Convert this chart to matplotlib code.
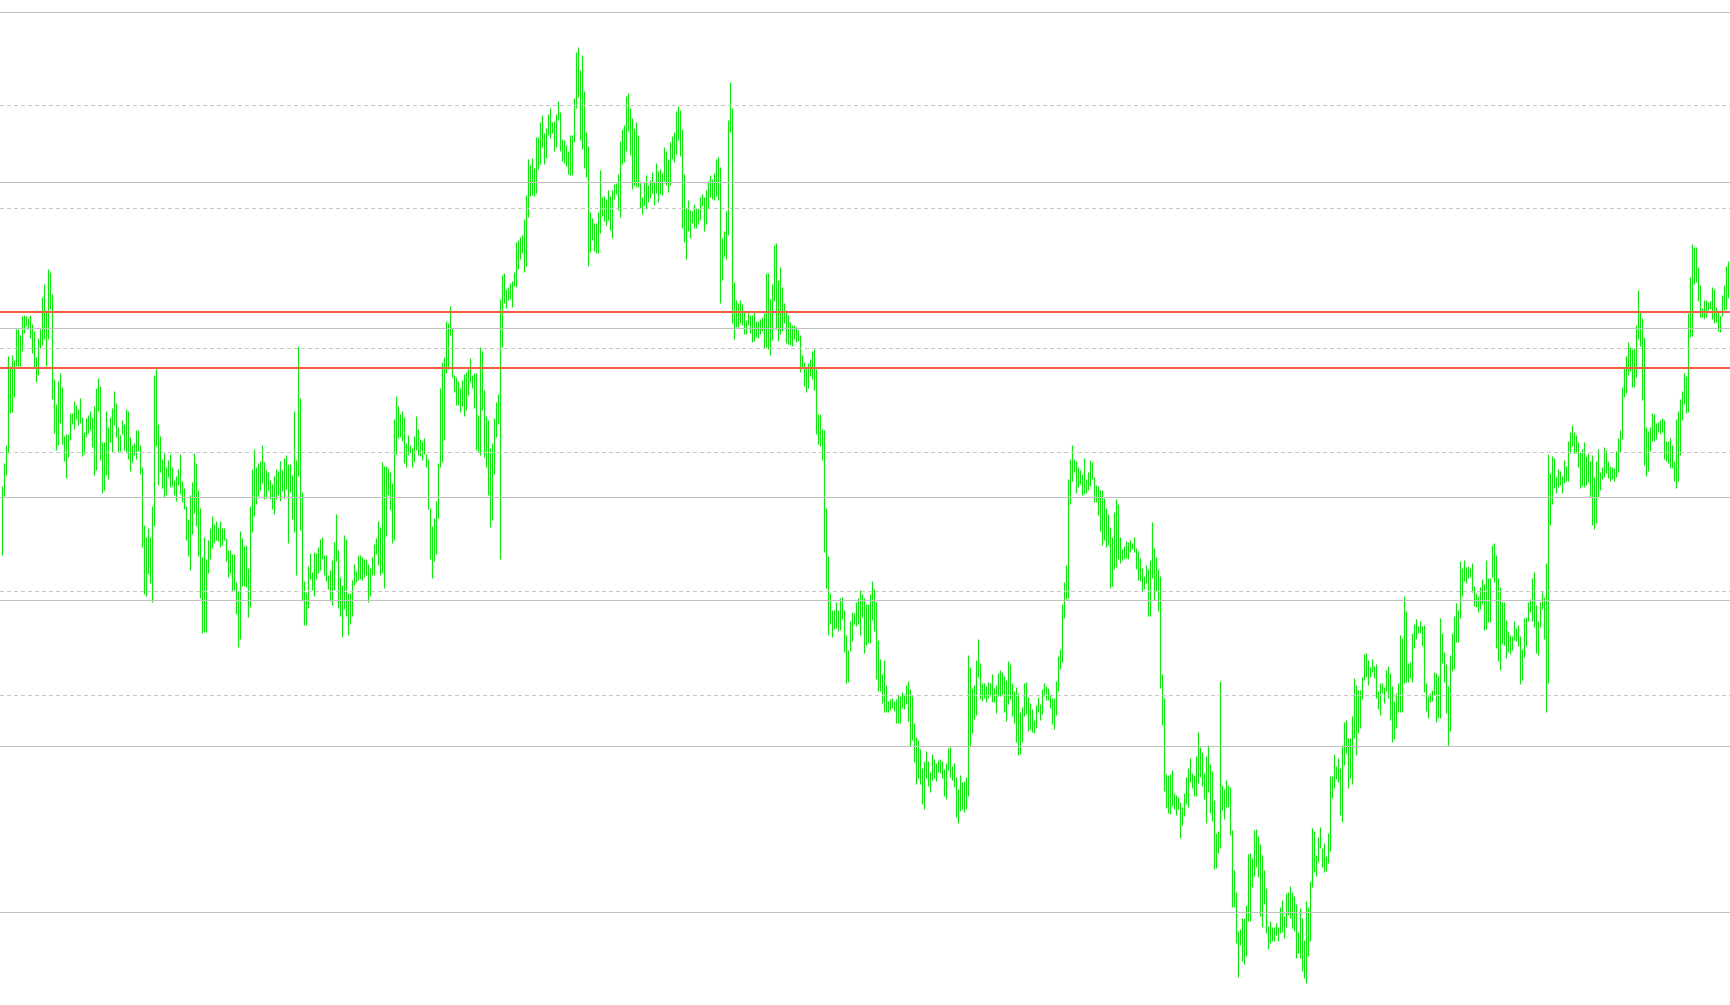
import numpy as np
import matplotlib
matplotlib.use("Agg")
import matplotlib.pyplot as plt

# ---- data (price units) ----
highs = [
514,537,555,644,634,645,640,671,671,665,
684,685,684,682,685,676,669,643,662,671,
703,716,690,731,728,706,621,596,619,627,
613,564,566,566,587,587,599,595,591,602,
583,568,582,585,589,583,594,612,622,614,
558,558,589,573,583,592,609,597,573,565,
580,576,591,589,563,555,557,570,570,555,
533,475,463,472,463,494,625,631,576,564,
541,547,533,540,546,533,520,524,531,546,
519,512,494,481,505,518,547,537,510,492,
443,463,441,460,472,484,476,479,473,479,
472,472,462,450,450,446,446,418,409,469,
462,454,455,432,494,531,551,533,537,539,
555,538,530,528,520,516,524,531,529,539,
530,542,545,536,536,
525,589,540,654,602,508,419,408,434,447,
428,448,447,453,461,463,445,445,425,430,
440,458,486,450,423,415,465,461,407,407,
420,436,429,445,445,443,441,441,436,432,
443,456,462,479,473,538,534,534,532,528,
517,581,604,594,586,589,583,557,565,555,
552,564,584,571,561,559,562,546,541,492,
474,482,499,537,612,638,643,679,677,694,
672,625,623,619,612,620,626,628,631,642,
625,627,627,585,653,649,610,584,580,552,
557,582,598,606,701,725,727,711,713,717,
719,728,758,760,763,765,781,805,841,835,
842,832,863,863,878,885,867,872,886,892,
878,879,886,899,888,861,860,855,849,865,
865,902,948,953,930,
945,909,868,854,788,782,777,777,788,830,
803,804,801,810,804,810,816,817,826,859,
871,875,904,907,892,882,872,878,865,817,
803,818,825,815,820,828,818,837,829,831,
827,853,849,841,858,864,868,889,894,890,
871,826,792,800,790,789,796,792,792,803,
806,803,810,819,825,821,827,841,843,833,
762,769,789,880,918,892,718,700,697,700,
696,688,680,688,685,685,688,679,679,681,
683,687,727,727,701,716,755,757,720,733,
713,697,690,685,678,675,675,673,670,665,
645,638,632,637,641,649,651,631,586,586,
571,570,492,444,407,390,390,398,390,402,
403,390,365,350,379,388,387,398,402,410,
406,402,396,396,406,
419,411,398,360,341,326,340,315,299,301,
302,299,301,306,304,308,306,315,319,311,
304,277,263,260,251,232,239,249,239,228,
246,241,237,240,241,239,231,237,252,253,
234,237,223,211,225,218,219,223,345,333,
312,315,340,361,337,317,317,314,318,317,
326,312,315,327,330,328,324,320,339,336,
317,309,313,307,288,293,317,318,303,297,
291,280,295,303,296,311,317,314,312,306,
302,302,319,344,351,396,418,435,521,541,
555,541,539,533,530,526,542,521,528,540,
538,523,515,514,510,510,502,492,486,473,
463,488,501,496,463,451,454,459,458,460,
457,463,452,449,442,432,424,435,431,440,
478,452,443,431,424,
326,302,226,225,226,230,207,205,203,198,
193,207,223,232,242,227,225,244,268,253,
248,227,244,255,236,229,200,167,169,319,
215,211,220,215,213,170,130,108,69,71,
82,82,95,146,147,142,170,171,164,156,
145,130,112,74,79,73,73,77,73,93,
100,84,107,108,114,108,104,96,68,92,
82,60,99,93,119,172,169,145,163,173,
152,157,144,167,224,224,246,234,242,232,
255,278,280,262,262,284,322,315,310,310,
323,346,347,340,333,341,334,336,309,317,
317,313,330,334,327,314,299,307,317,365,
362,404,389,337,338,367,376,381,374,379,
374,375,317,304,307,310,328,327,324,382,
367,348,336,314,345,
367,384,397,390,439,432,440,433,434,432,
437,414,407,404,413,421,416,440,422,422,
455,457,445,422,413,398,398,380,369,365,
364,379,372,375,364,351,382,383,398,401,
422,428,395,379,398,408,403,437,546,527,
544,542,523,531,529,524,540,534,559,568,
575,568,565,558,548,551,558,544,547,539,
545,523,539,551,528,533,553,550,539,534,
533,532,549,562,570,613,632,644,658,653,
651,652,675,710,688,682,663,573,569,573,
587,586,577,578,580,582,580,559,559,562,
555,539,581,589,601,609,627,624,687,723,
756,753,753,733,715,692,700,700,698,699,
713,711,693,688,684,705,715,734,739,740,
]

lows = [
445,504,525,547,587,588,603,634,634,634,
649,667,674,671,662,647,633,618,625,652,
655,661,634,661,691,601,567,550,555,577,
556,539,522,543,560,576,571,581,575,577,
544,546,563,567,570,553,525,530,589,540,
507,510,525,521,558,548,575,563,548,549,
566,550,547,541,529,538,545,541,549,526,
453,406,404,426,417,398,474,554,515,528,
512,503,505,523,513,514,505,499,515,506,
498,491,460,444,430,466,487,474,444,402,
367,368,368,427,441,452,457,460,459,453,
455,460,439,423,427,409,410,386,353,361,
414,414,413,383,393,468,484,496,504,510,
517,501,502,510,501,491,486,501,505,499,
509,502,511,457,508,
481,468,425,524,470,399,375,375,392,421,
410,404,421,427,430,441,425,419,411,399,
395,410,439,392,384,363,391,384,365,376,
384,415,418,420,421,420,423,425,398,404,
425,425,446,435,425,427,412,464,505,490,
457,460,546,562,563,559,537,533,545,547,
533,538,550,545,544,540,546,533,491,441,
422,439,446,482,533,538,560,627,631,665,
623,608,595,595,588,594,584,590,605,618,
612,592,550,548,545,590,543,533,505,473,
480,526,563,576,441,653,697,692,700,701,
693,714,713,731,741,747,728,734,783,804,
805,804,807,831,836,853,836,842,865,862,
867,849,853,880,849,839,837,834,826,825,
825,858,892,903,860,
851,832,823,734,748,760,749,747,747,767,
784,779,775,780,770,762,801,806,790,783,
836,838,849,869,845,811,815,813,813,792,
786,794,791,798,802,807,795,807,798,806,
805,819,815,808,815,841,838,846,860,844,
772,758,741,769,762,777,772,772,776,780,
794,769,776,791,803,801,800,804,800,697,
720,744,741,765,868,677,661,673,673,677,
675,666,666,675,667,658,659,663,662,666,
669,652,653,651,645,660,699,671,659,666,
669,677,657,656,655,654,661,658,659,628,
633,614,608,612,624,621,610,566,556,554,
540,448,412,365,376,363,371,372,369,370,
381,348,317,318,349,359,376,374,376,365,
383,347,355,357,357,
380,369,321,309,309,297,288,288,288,290,
292,289,277,277,277,292,291,296,279,254,
260,238,216,222,216,196,191,222,214,208,
220,222,219,228,227,222,204,201,230,223,
220,213,183,177,189,191,188,191,204,254,
267,281,285,323,301,299,302,298,302,304,
298,298,287,304,304,306,288,279,296,301,
284,277,258,245,246,258,284,286,269,271,
268,267,272,288,280,286,304,300,300,292,
276,271,285,309,331,338,382,401,402,496,
519,528,507,513,516,505,506,507,510,514,
521,498,498,485,469,455,460,453,455,412,
414,431,433,441,437,440,441,442,441,448,
451,448,431,420,419,409,411,417,384,384,
422,400,409,389,312,
275,209,192,187,186,194,191,185,191,162,
175,184,196,193,218,212,204,204,217,223,
214,201,177,208,187,179,131,132,147,152,
190,181,193,193,165,93,93,57,23,55,
39,36,44,79,79,113,124,133,123,84,
73,96,67,51,57,59,59,65,59,67,
68,62,73,85,82,72,69,42,47,42,
29,22,17,44,59,113,128,124,138,152,
133,128,129,137,149,202,212,221,218,185,
178,235,247,212,222,216,262,245,267,272,
301,320,323,315,323,328,322,302,291,285,
307,297,309,302,280,258,261,272,288,288,
288,317,318,318,322,318,352,361,367,367,
354,308,289,282,298,299,305,278,282,282,
337,318,287,254,269,
329,331,358,358,382,404,419,417,422,423,
408,394,393,388,391,396,370,371,378,378,
423,418,352,339,330,356,355,342,348,346,
350,360,359,354,316,320,343,354,379,388,
379,373,347,345,373,391,361,288,317,475,
496,512,507,513,515,507,517,519,519,547,
554,547,547,533,512,514,513,515,518,503,
475,471,477,503,510,521,523,527,522,519,
521,519,523,528,548,561,603,607,625,629,
613,613,623,661,654,600,535,524,529,549,
559,559,561,568,566,568,541,539,537,532,
532,519,512,519,545,580,596,587,588,663,
664,716,718,699,683,683,681,683,690,691,
681,677,678,669,668,684,690,691,702,700,
]

solid_levels = [988, 818, 672, 503, 400, 254, 88]
dashed_levels = [895, 792, 652, 548, 409, 305]
red_levels = [688, 632]

# ---- figure ----
W, H, DPI = 1730, 1005, 100
fig = plt.figure(figsize=(W / DPI, H / DPI), dpi=DPI, facecolor="white")
ax = fig.add_axes([0, 0, 1, 1])
ax.set_facecolor("white")
ax.axis("off")

n = len(highs)
x = np.arange(n)
px = 72.0 / DPI  # one pixel in points

ax.vlines(x, lows, highs, colors="#10E810", linewidth=1.15 * px,
          antialiased=True, zorder=2)

for lv in solid_levels:
    ax.axhline(lv, color="#C0C0C0", linewidth=px, antialiased=False, zorder=3)
for lv in dashed_levels:
    ax.axhline(lv, color="#C8C8C8", linewidth=px, linestyle=(0, (3, 3)),
               antialiased=False, zorder=3)
for lv in red_levels:
    ax.axhline(lv, color="#F5603F", linewidth=2 * px, antialiased=False, zorder=4)

ax.set_xlim(-0.75, n - 0.75)
ax.set_ylim(-5, 1000)

fig.savefig("out.png", dpi=DPI, facecolor="white")
